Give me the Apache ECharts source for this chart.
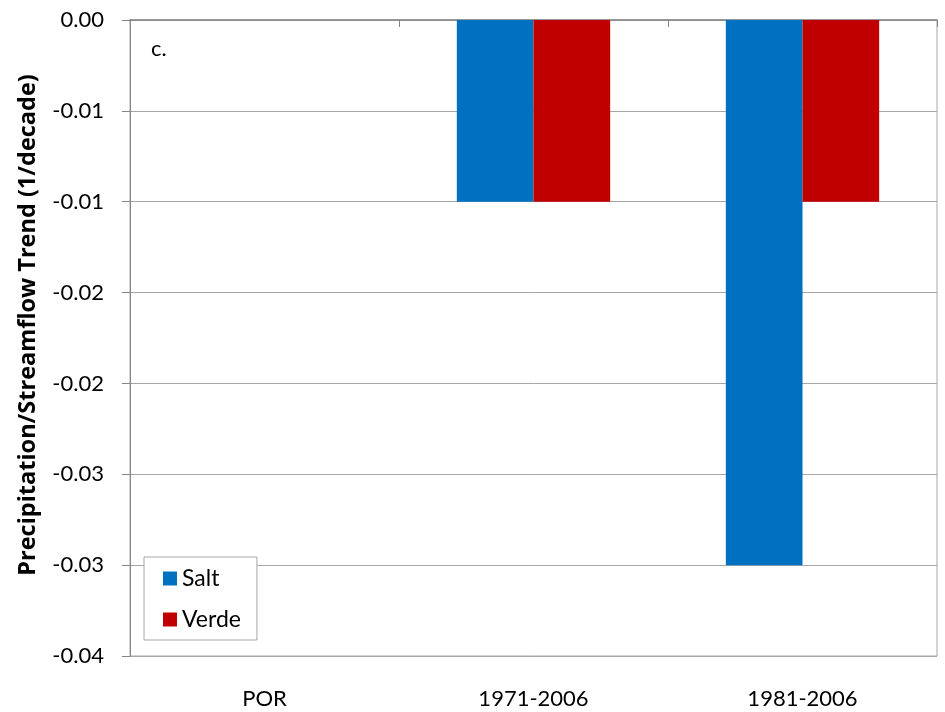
<!DOCTYPE html>
<html>
<head>
<meta charset="utf-8">
<script src="https://cdn.jsdelivr.net/npm/echarts@6/dist/echarts.min.js"></script>
<style>
html,body{margin:0;padding:0;background:#fff;}
#chart{width:945px;height:712px;}
</style>
</head>
<body>
<div id="chart"></div>
<script>
var categories = ['POR', '1971-2006', '1981-2006'];
var saltValues = [0, -0.01, -0.03];
var verdeValues = [0, -0.01, -0.01];
var yTickLabels = ['0.00', '-0.01', '-0.01', '-0.02', '-0.02', '-0.03', '-0.03', '-0.04'];
var yStep = 0.005;
var yTitle = 'Precipitation/Streamflow Trend (1/decade)';

var FONT = 'Lato, "Open Sans", "Liberation Sans", sans-serif';
var TFONT = '"Open Sans", Lato, sans-serif';
var chart = echarts.init(document.getElementById('chart'));
chart.setOption({
  animation: false,
  backgroundColor: '#ffffff',
  textStyle: { fontFamily: FONT },
  grid: { left: 130, right: 8, top: 20, bottom: 56, show: true, borderColor: '#a6a6a6', borderWidth: 1, backgroundColor: 'transparent' },
  graphic: [{
    type: 'text', left: 151, top: 38,
    style: { text: 'c.', font: '22px ' + FONT, fill: '#000' }
  }, {
    type: 'text', x: 28, y: 325, rotation: Math.PI / 2,
    style: { text: yTitle, font: 'bold 23.5px ' + TFONT, fill: '#000', textAlign: 'center', textVerticalAlign: 'middle' }
  }],
  legend: {
    orient: 'vertical', left: 144, top: 557,
    padding: [10, 16, 9, 19],
    itemGap: 18, itemWidth: 14, itemHeight: 14,
    borderColor: '#a6a6a6', borderWidth: 1, backgroundColor: '#fff',
    icon: 'rect',
    textStyle: { fontSize: 23, color: '#000', fontFamily: FONT },
    data: ['Salt', 'Verde']
  },
  xAxis: [{
    type: 'category', data: categories, position: 'bottom',
    axisLine: { show: false },
    axisTick: { show: false },
    axisLabel: { fontSize: 22, color: '#000', margin: 32, fontFamily: FONT },
    splitLine: { show: false }
  }, {
    type: 'category', data: categories, position: 'top',
    axisLine: { show: true, onZero: false, lineStyle: { color: '#868686', width: 1.5 } },
    axisTick: { show: true, inside: true, length: 7, lineStyle: { color: '#868686' } },
    axisLabel: { show: false }
  }],
  yAxis: {
    type: 'value', min: -0.035, max: 0, interval: yStep,
    axisLine: { show: true, lineStyle: { color: '#868686' } },
    axisTick: { show: true, length: 8, lineStyle: { color: '#868686' } },
    axisLabel: {
      fontSize: 22, color: '#000', margin: 26, fontFamily: FONT,
      formatter: function (v) { return yTickLabels[Math.round(-v / yStep)]; }
    },
    splitLine: { show: true, lineStyle: { color: '#a6a6a6', width: 1 } }
  },
  series: [{
    name: 'Salt', type: 'bar', data: saltValues,
    itemStyle: { color: '#0070C0' },
    barGap: '0%', barCategoryGap: '43%'
  }, {
    name: 'Verde', type: 'bar', data: verdeValues,
    itemStyle: { color: '#C00000' },
    barGap: '0%', barCategoryGap: '43%'
  }]
});
</script>
</body>
</html>
